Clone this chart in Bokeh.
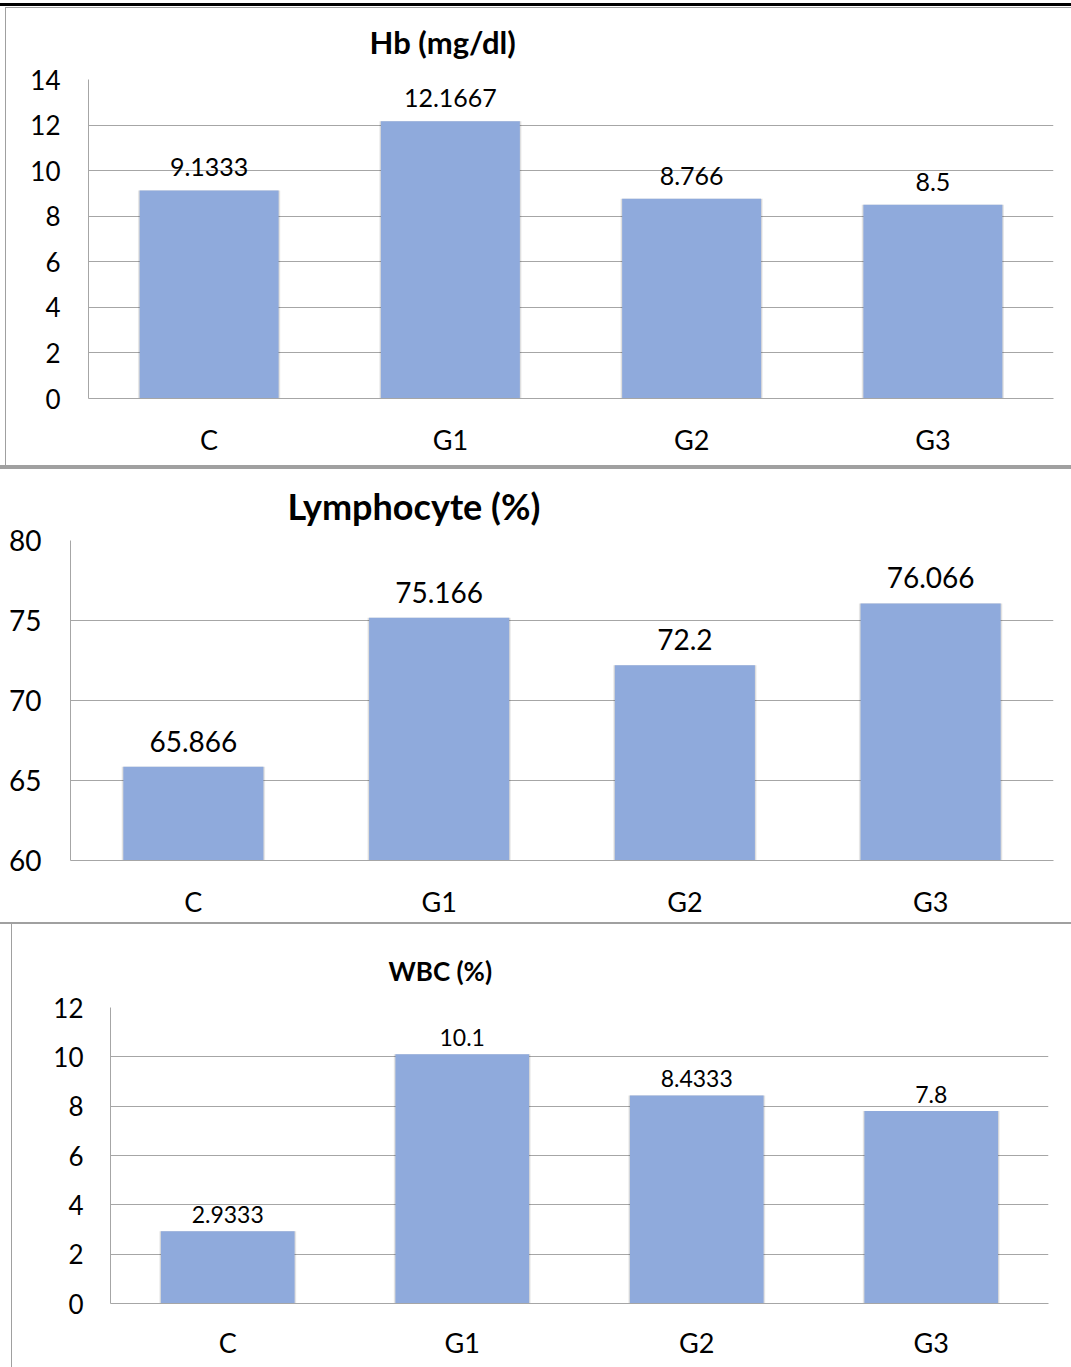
from bokeh.plotting import figure
from bokeh.models import ColumnDataSource, FactorRange, Range1d, FixedTicker, Title, LabelSet
from bokeh.core.properties import value
from bokeh.embed import file_html
from bokeh.resources import INLINE

categories = ["C", "G1", "G2", "G3"]

hb_values = [9.1333, 12.1667, 8.766, 8.5]
hb_labels = ["9.1333", "12.1667", "8.766", "8.5"]
hb_ticks = [0, 2, 4, 6, 8, 10, 12, 14]

lymph_values = [65.866, 75.166, 72.2, 76.066]
lymph_labels = ["65.866", "75.166", "72.2", "76.066"]
lymph_ticks = [60, 65, 70, 75, 80]

wbc_values = [2.9333, 10.1, 8.4333, 7.8]
wbc_labels = ["2.9333", "10.1", "8.4333", "7.8"]
wbc_ticks = [0, 2, 4, 6, 8, 10, 12]

FONT = "Lato"
BAR = "#8FAADC"
GRID = "#A6A6A6"
EDGE = "#A0A0A0"


def frame_lines(lines):
    # lines: list of (color, x, y, w, h) drawn as CSS background strips
    imgs = ", ".join(f"linear-gradient({c},{c})" for c, *_ in lines)
    sizes = ", ".join(f"{w} {h}" for _, _, _, w, h in lines)
    pos = ", ".join(f"{x} {y}" for _, x, y, _, _ in lines)
    return {"background-image": imgs, "background-size": sizes,
            "background-position": pos, "background-repeat": "no-repeat"}


def make_panel(title, values, labels, ticks, height, left, right, top, bottom,
               title_size, title_offset, title_standoff, num_size,
               tick_size, cat_size, bar_width, label_offset, ystand, xstand,
               deco):
    p = figure(x_range=FactorRange(*categories, range_padding=0),
               y_range=Range1d(ticks[0], ticks[-1]),
               width=1071, height=height, output_backend="svg",
               toolbar_location=None, min_border_left=left,
               min_border_right=right, min_border_top=top,
               min_border_bottom=bottom)
    p.outline_line_color = None
    p.border_fill_alpha = 0
    p.background_fill_color = "#FFFFFF"
    p.styles = frame_lines(deco)
    src = ColumnDataSource(dict(cat=categories, val=values, lab=labels,
                                base=[ticks[0]] * len(values)))
    # soft shadow
    p.vbar(x="cat", top="val", bottom="base", width=bar_width + 0.014,
           source=src, fill_color="#000000", fill_alpha=0.08, line_color=None)
    p.vbar(x="cat", top="val", bottom="base", width=bar_width + 0.007,
           source=src, fill_color="#000000", fill_alpha=0.08, line_color=None)
    p.vbar(x="cat", top="val", bottom="base", width=bar_width,
           source=src, fill_color=BAR, line_color=None)
    ls = LabelSet(x="cat", y="val", text="lab", source=src,
                  text_align="center", text_baseline="alphabetic",
                  y_offset=label_offset, text_font=value(FONT),
                  text_font_size=value(num_size), text_color="#000000")
    p.add_layout(ls)
    t = Title(text=title, text_font=FONT, text_font_size=title_size,
              text_font_style="bold", align="left", offset=title_offset,
              standoff=title_standoff, text_color="#000000")
    p.add_layout(t, "above")

    p.yaxis.ticker = FixedTicker(ticks=ticks)
    p.ygrid.ticker = FixedTicker(ticks=ticks)
    p.ygrid.grid_line_color = GRID
    p.ygrid.grid_line_width = 1
    p.xgrid.grid_line_color = None
    p.yaxis.axis_line_color = GRID
    p.yaxis.major_tick_line_color = None
    p.yaxis.minor_tick_line_color = None
    p.yaxis.major_label_text_font = FONT
    p.yaxis.major_label_text_font_size = tick_size
    p.yaxis.major_label_text_color = "#000000"
    p.yaxis.major_label_standoff = ystand
    p.xaxis.axis_line_color = GRID
    p.xaxis.major_tick_line_color = None
    p.xaxis.minor_tick_line_color = None
    p.xaxis.major_label_text_font = FONT
    p.xaxis.major_label_text_font_size = cat_size
    p.xaxis.major_label_text_color = "#000000"
    p.xaxis.major_label_standoff = xstand
    return p


deco1 = [("#000000", "0px", "3px", "100%", "3px"),
         (EDGE, "5px", "7px", "100%", "1px"),
         (EDGE, "5px", "7px", "1px", "458px"),
         (EDGE, "0px", "465px", "100%", "2px")]
deco2 = [(EDGE, "0px", "0px", "100%", "2px")]
deco3 = [(EDGE, "0px", "0px", "100%", "2px"),
         (EDGE, "11px", "2px", "1px", "100%")]

p1 = make_panel("Hb (mg/dl)", hb_values, hb_labels, hb_ticks, 467,
                88, 18, 79, 69, "31px", 281, 37, "25px", "26px", "27px",
                0.576, 14, 22, 18, deco1)
p2 = make_panel("Lymphocyte (%)", lymph_values, lymph_labels, lymph_ticks, 455,
                70, 18, 73, 62, "36px", 217, 25, "28px", "28px", "27px",
                0.57, 15, 23, 18, deco2)
p3 = make_panel("WBC (%)", wbc_values, wbc_labels, wbc_ticks, 445,
                110, 23, 85, 64, "26px", 278, 41, "23px", "26px", "27px",
                0.57, 8, 21, 16, deco3)

open("out.html", "w").write(file_html([p1, p2, p3], INLINE))
